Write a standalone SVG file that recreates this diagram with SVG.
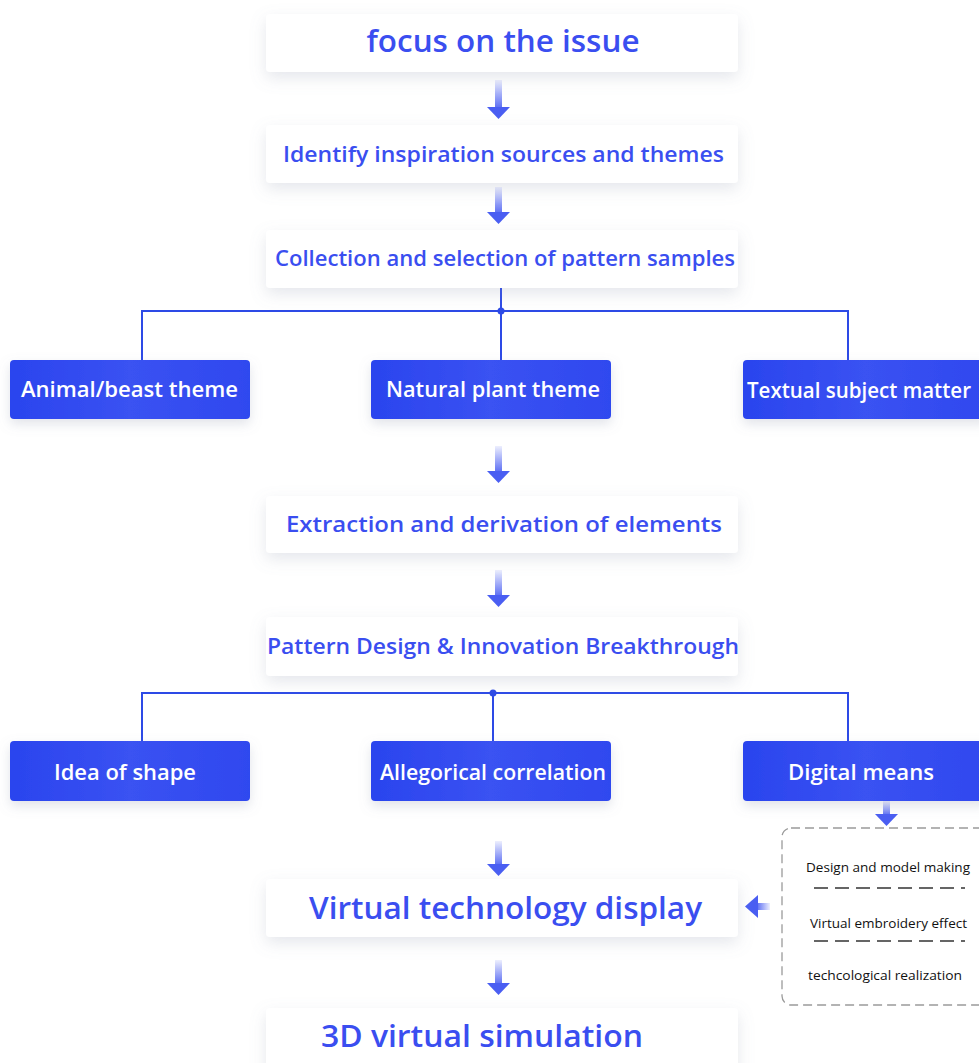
<svg xmlns="http://www.w3.org/2000/svg" width="979" height="1063" viewBox="0 0 979 1063">
<defs>
<filter id="sh" x="-20%" y="-60%" width="140%" height="220%">
<feDropShadow dx="0" dy="6" stdDeviation="8" flood-color="#8890a8" flood-opacity="0.22"/>
</filter>
<filter id="shb" x="-20%" y="-60%" width="140%" height="220%">
<feDropShadow dx="0" dy="5" stdDeviation="6" flood-color="#8890a8" flood-opacity="0.25"/>
</filter>
<linearGradient id="ga" x1="0" y1="0" x2="0" y2="1">
<stop offset="0" stop-color="#4a5ef2" stop-opacity="0.1"/>
<stop offset="1" stop-color="#4a5ef2" stop-opacity="0.9"/>
</linearGradient>
<linearGradient id="gl" x1="1" y1="0" x2="0" y2="0">
<stop offset="0" stop-color="#4a5ef2" stop-opacity="0.1"/>
<stop offset="1" stop-color="#4a5ef2" stop-opacity="0.9"/>
</linearGradient>
<linearGradient id="gb" x1="0" y1="0" x2="1" y2="0">
<stop offset="0" stop-color="#2a44ee"/>
<stop offset="0.5" stop-color="#3a52f2"/>
<stop offset="1" stop-color="#2f48ef"/>
</linearGradient>
</defs>
<style>
.wb{fill:#ffffff;filter:url(#sh)}
.bb{fill:url(#gb);filter:url(#shb)}
.t{font-family:"Open Sans","Noto Sans","DejaVu Sans",sans-serif;font-weight:600;fill:#3a4ef0;text-anchor:middle}
.w{font-family:"Open Sans","Noto Sans","DejaVu Sans",sans-serif;font-weight:600;fill:#ffffff}
.s{font-family:"Open Sans","Noto Sans","DejaVu Sans",sans-serif;font-weight:500;fill:#111111;font-size:12px}
.ln{stroke:#2d4ae6;stroke-width:2;fill:none}
.ar{fill:url(#ga)}
.ah{fill:#4a5ef2}
.dl{stroke:#333333;stroke-width:1.4;stroke-dasharray:14 7}
</style>
<rect width="979" height="1063" fill="#ffffff"/>

<g id="connectors">
<path class="ln" d="M501 288 V360 M142 360 V311 H848 V360"/>
<circle cx="501" cy="311" r="3.5" fill="#2d4ae6"/>
<path class="ln" d="M493 693 V741 M142 741 V693 H848 V741"/>
<circle cx="493" cy="693" r="3.5" fill="#2d4ae6"/>
<g id="arrows">
<rect class="ar" x="495" y="80" width="7" height="28"/><path class="ah" d="M487 107 H510 L498.5 119 Z"/>
<rect class="ar" x="495" y="187" width="7" height="26"/><path class="ah" d="M487 212 H510 L498.5 224 Z"/>
<rect class="ar" x="495" y="446" width="7" height="26"/><path class="ah" d="M487 471 H510 L498.5 483 Z"/>
<rect class="ar" x="495" y="570" width="7" height="26"/><path class="ah" d="M487 595 H510 L498.5 607 Z"/>
<rect class="ar" x="495" y="841" width="7" height="24"/><path class="ah" d="M487 864 H510 L498.5 876 Z"/>
<rect class="ar" x="495" y="960" width="7" height="24"/><path class="ah" d="M487 983 H510 L498.5 995 Z"/>
<rect class="ar" x="883" y="801" width="7" height="14"/><path class="ah" d="M875 814 H898 L886.5 826 Z"/>
<rect x="757" y="903" width="13" height="7" fill="url(#gl)"/><path class="ah" d="M758 895 V918 L745 906.5 Z"/>
</g>
</g>

<g id="n1"><rect class="wb" x="266" y="14" width="472" height="58" rx="4"/><text class="t" x="503" y="52" font-size="31" textLength="273" lengthAdjust="spacingAndGlyphs">focus on the issue</text></g>
<g id="n2"><rect class="wb" x="266" y="125" width="472" height="58" rx="4"/><text class="t" x="503.5" y="162" font-size="22" textLength="441" lengthAdjust="spacingAndGlyphs">Identify inspiration sources and themes</text></g>
<g id="n3"><rect class="wb" x="266" y="230" width="472" height="58" rx="4"/><text class="t" x="505" y="266" font-size="22" textLength="460" lengthAdjust="spacingAndGlyphs">Collection and selection of pattern samples</text></g>

<g id="n4"><rect class="bb" x="10" y="360" width="240" height="59" rx="4"/><text class="w" x="21" y="397" font-size="22" textLength="217" lengthAdjust="spacingAndGlyphs">Animal/beast theme</text></g>
<g id="n5"><rect class="bb" x="371" y="360" width="240" height="59" rx="4"/><text class="w" x="386" y="397" font-size="22" textLength="214" lengthAdjust="spacingAndGlyphs">Natural plant theme</text></g>
<g id="n6"><rect class="bb" x="743" y="360" width="245" height="59" rx="4"/><text class="w" x="747" y="398" font-size="21" textLength="224" lengthAdjust="spacingAndGlyphs">Textual subject matter</text></g>

<g id="n7"><rect class="wb" x="266" y="496" width="472" height="57" rx="4"/><text class="t" x="504" y="532" font-size="22" textLength="436" lengthAdjust="spacingAndGlyphs">Extraction and derivation of elements</text></g>
<g id="n8"><rect class="wb" x="266" y="617" width="472" height="59" rx="4"/><text class="t" x="503" y="654" font-size="22" textLength="472" lengthAdjust="spacingAndGlyphs">Pattern Design &amp; Innovation Breakthrough</text></g>

<g id="n9"><rect class="bb" x="10" y="741" width="240" height="60" rx="4"/><text class="w" x="54" y="780" font-size="22" textLength="142" lengthAdjust="spacingAndGlyphs">Idea of shape</text></g>
<g id="n10"><rect class="bb" x="371" y="741" width="240" height="60" rx="4"/><text class="w" x="380" y="780" font-size="22" textLength="226" lengthAdjust="spacingAndGlyphs">Allegorical correlation</text></g>
<g id="n11"><rect class="bb" x="743" y="741" width="245" height="60" rx="4"/><text class="w" x="788" y="780" font-size="22" textLength="146" lengthAdjust="spacingAndGlyphs">Digital means</text></g>

<g id="n12">
<rect x="782" y="828" width="215" height="177" rx="9" fill="#ffffff" stroke="#9a9a9a" stroke-width="1.3" stroke-dasharray="9 5"/>
<text class="s" x="806" y="872" textLength="164" lengthAdjust="spacingAndGlyphs">Design and model making</text>
<line class="dl" x1="814" y1="888" x2="965" y2="888"/>
<text class="s" x="810" y="928" textLength="157" lengthAdjust="spacingAndGlyphs">Virtual embroidery effect</text>
<line class="dl" x1="814" y1="941" x2="965" y2="941"/>
<text class="s" x="808" y="980" textLength="154" lengthAdjust="spacingAndGlyphs">techcological realization</text>
</g>

<g id="n13"><rect class="wb" x="266" y="879" width="472" height="58" rx="4"/><text class="t" x="505.5" y="919" font-size="31" textLength="393" lengthAdjust="spacingAndGlyphs">Virtual technology display</text></g>
<g id="n14"><rect class="wb" x="266" y="1008" width="472" height="70" rx="4"/><text class="t" x="482" y="1047" font-size="31" textLength="322" lengthAdjust="spacingAndGlyphs">3D virtual simulation</text></g>
</svg>
